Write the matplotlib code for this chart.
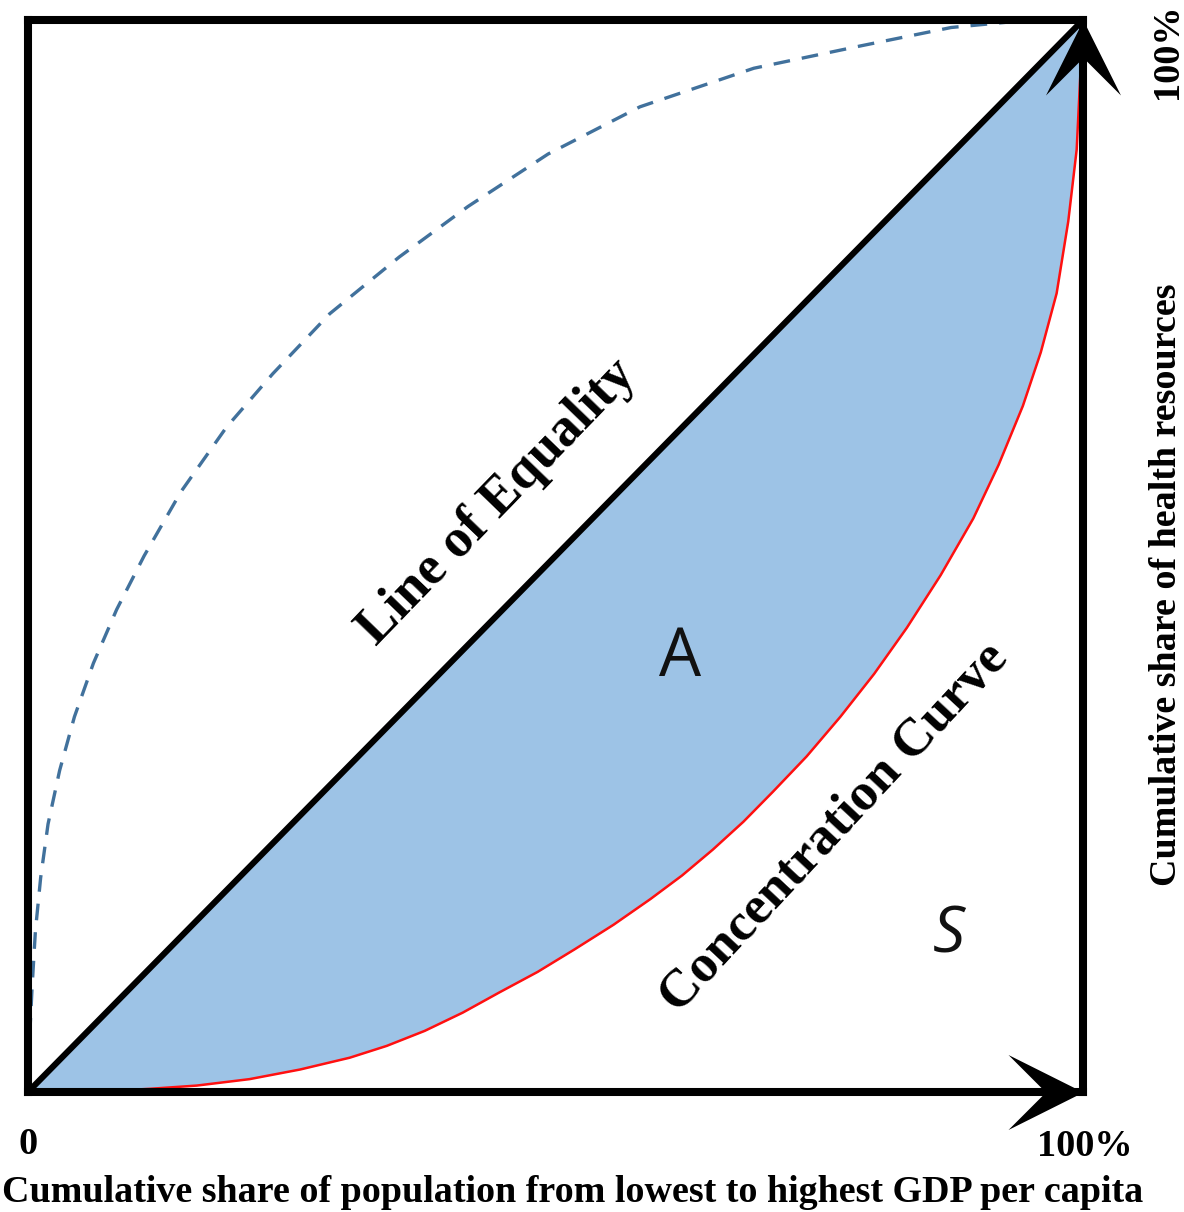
import numpy as np
import matplotlib
matplotlib.use("Agg")
import matplotlib.pyplot as plt
from matplotlib.path import Path

# ---- data (fractions of 100%) ----
equality_x = [0.0, 1.0]
equality_y = [0.0, 1.0]

conc_x = [0.0, 0.060, 0.116, 0.160, 0.210, 0.258, 0.305, 0.340, 0.376, 0.412,
          0.447, 0.483, 0.518, 0.555, 0.590, 0.620, 0.649, 0.678, 0.706, 0.738,
          0.770, 0.802, 0.833, 0.865, 0.896, 0.920, 0.943, 0.960, 0.975, 0.986,
          0.994, 1.0]
conc_y = [0.0, 0.000, 0.003, 0.006, 0.012, 0.021, 0.032, 0.043, 0.057, 0.074,
          0.093, 0.112, 0.133, 0.156, 0.180, 0.202, 0.226, 0.252, 0.280, 0.313,
          0.350, 0.390, 0.433, 0.482, 0.535, 0.585, 0.640, 0.690, 0.745, 0.812,
          0.879, 1.0]

dash_x = [0.0, 0.001, 0.004, 0.007, 0.012, 0.019, 0.030, 0.044, 0.062, 0.084,
          0.110, 0.145, 0.188, 0.232, 0.286, 0.352, 0.417, 0.493, 0.580, 0.688,
          0.790, 0.875, 0.950]
dash_y = [0.0, 0.040, 0.100, 0.150, 0.200, 0.250, 0.300, 0.350, 0.400, 0.450,
          0.500, 0.560, 0.620, 0.670, 0.726, 0.779, 0.826, 0.875, 0.919, 0.955,
          0.976, 0.993, 1.0]

x_label = "Cumulative share of population from lowest to highest GDP per capita"
y_label = "Cumulative share of health resources"
tick_start = "0"
tick_end = "100%"

SERIF = ["Liberation Serif", "DejaVu Serif"]

fig = plt.figure(figsize=(11.84, 12.12), dpi=100)
ax = fig.add_axes([28/1184, 120/1212, 1055/1184, 1072/1212])
ax.set_xlim(0, 1)
ax.set_ylim(0, 1)
ax.set_xticks([])
ax.set_yticks([])
for sp in ax.spines.values():
    sp.set_linewidth(5.8)
    sp.set_color("black")
    sp.set_zorder(6)

# fill between equality line and concentration curve
cx = np.array(conc_x)
cy = np.array(conc_y)
ax.fill_between(cx, cx, cy, color="#9dc3e6", lw=0, zorder=1)
ax.plot(conc_x, conc_y, color="#ff1010", lw=1.8, zorder=3,
        solid_capstyle="round", solid_joinstyle="round")
ax.plot(equality_x, equality_y, color="black", lw=4.4, zorder=4, solid_capstyle="round")
ax.plot(dash_x, dash_y, color="#41719c", lw=2.4, ls=(0, (5, 3.6)), zorder=2)

# arrowheads (stealth style) at the ends of both axes
right_head = Path([(0, 0), (-1, 0.5), (-0.5, 0), (-1, -0.5), (0, 0)],
                  [Path.MOVETO, Path.LINETO, Path.LINETO, Path.LINETO, Path.CLOSEPOLY])
up_head = Path([(0, 0), (0.5, -1), (0, -0.5), (-0.5, -1), (0, 0)],
               [Path.MOVETO, Path.LINETO, Path.LINETO, Path.LINETO, Path.CLOSEPOLY])
ax.plot([1.0], [0.0], marker=right_head, markersize=108, color="black",
        markeredgewidth=0, clip_on=False, zorder=7)
ax.plot([1.0], [1.0], marker=up_head, markersize=108, color="black",
        markeredgewidth=0, clip_on=False, zorder=7)

# annotations inside the plot
ax.text(0.445, 0.550, "Line of Equality", rotation=46, rotation_mode="anchor",
        ha="center", va="center", fontsize=39, fontweight="bold", family=SERIF,
        zorder=8)
ax.text(0.764, 0.246, "Concentration Curve", rotation=47, rotation_mode="anchor",
        ha="center", va="center", fontsize=38.5, fontweight="bold", family=SERIF,
        zorder=8)
ax.text(0.618, 0.405, "A", ha="center", va="center", fontsize=48,
        family=["Open Sans", "DejaVu Sans"], color="#111111", zorder=8)
ax.text(0.873, 0.146, "S", ha="center", va="center", fontsize=46, style="italic",
        family=["Open Sans", "DejaVu Sans"], color="#111111", zorder=8)

# labels outside
fig.text(28/1184, 1 - 1145/1212, tick_start, ha="center", va="center",
         fontsize=27.5, fontweight="bold", family=SERIF)
fig.text(1085/1184, 1 - 1147/1212, tick_end, ha="center", va="center",
         fontsize=27.5, fontweight="bold", family=SERIF)
fig.text(1168/1184, 1 - 51/1212, tick_end, ha="center", va="center", rotation=90,
         fontsize=27.5, fontweight="bold", family=SERIF)
fig.text(573/1184, 1 - 1192/1212, x_label, ha="center", va="center",
         fontsize=27.4, fontweight="bold", family=SERIF)
fig.text(1166/1184, 1 - 585/1212, y_label, ha="center", va="center", rotation=90,
         fontsize=27.4, fontweight="bold", family=SERIF)

fig.savefig("out.png", dpi=100, facecolor="white")
